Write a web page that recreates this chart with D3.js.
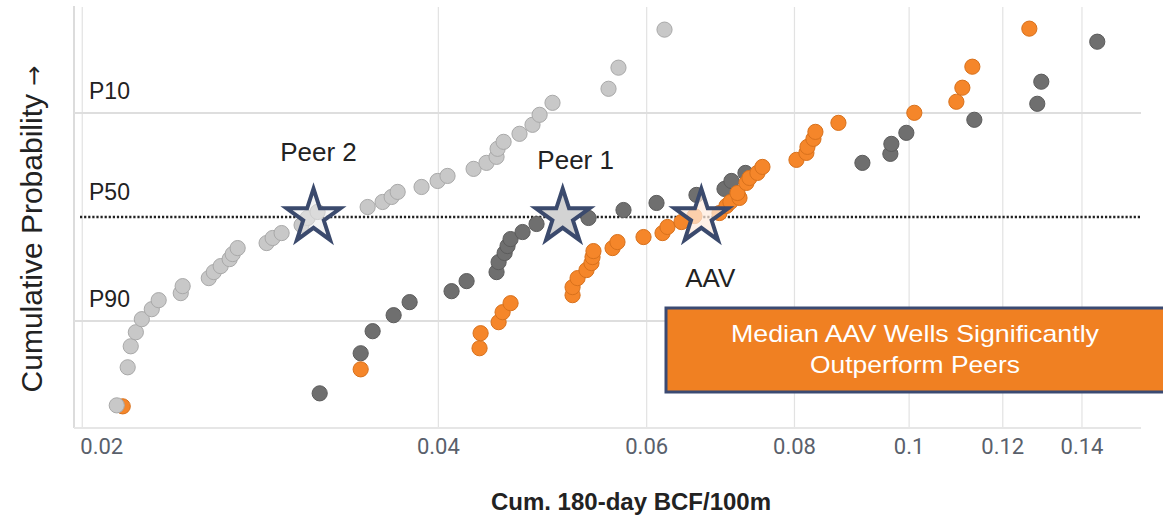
<!DOCTYPE html>
<html><head><meta charset="utf-8">
<script src="https://cdn.jsdelivr.net/npm/d3@7"></script>
<style>
html,body{margin:0;padding:0;background:#fff;}
svg{display:block;}
</style></head>
<body>
<svg id="chart" width="1163" height="518"></svg>
<script>
// ---- DATA ----
// x: Cum. 180-day BCF/100m ; z: normal score of cumulative probability (0 = P50)
const peer2X = [0.02141,0.02187,0.02200,0.02222,0.02248,0.02292,0.02323,0.02425,0.02434,0.02561,0.02586,0.02621,0.02667,0.02683,0.02709,0.02866,0.02900,0.02951,0.03068,0.03104,0.03165,0.03489,0.03592,0.03656,0.03699,0.03875,0.03998,0.04076,0.04288,0.04397,0.04484,0.04493,0.04546,0.04689,0.04809,0.04876,0.05000,0.05576,0.05685,0.06218];
const peer2Z = [-2.321,-1.852,-1.593,-1.420,-1.259,-1.136,-1.025,-0.938,-0.852,-0.753,-0.679,-0.605,-0.519,-0.457,-0.383,-0.321,-0.259,-0.198,-0.099,-0.012,0.062,0.123,0.185,0.247,0.309,0.370,0.444,0.506,0.593,0.667,0.741,0.840,0.926,1.025,1.136,1.259,1.407,1.580,1.840,2.309];

const peer1X = [0.03178,0.03442,0.03523,0.03670,0.03786,0.04108,0.04230,0.04484,0.04502,0.04555,0.04581,0.04608,0.04717,0.04847,0.05363,0.05741,0.06122,0.06617,0.06988,0.07083,0.07279,0.09140,0.09651,0.09670,0.09956,0.11365,0.12846,0.12947,0.14437];
const peer1Z = [-2.173,-1.679,-1.407,-1.210,-1.049,-0.914,-0.790,-0.679,-0.556,-0.444,-0.358,-0.272,-0.185,-0.086,-0.012,0.086,0.173,0.272,0.346,0.444,0.543,0.667,0.778,0.901,1.037,1.198,1.395,1.667,2.160];

const aavX = [0.02166,0.03442,0.04338,0.04347,0.04502,0.04537,0.04608,0.05199,0.05199,0.05250,0.05342,0.05394,0.05405,0.05415,0.05620,0.05674,0.05969,0.06194,0.06254,0.06427,0.06591,0.06920,0.07015,0.07069,0.07195,0.07167,0.07293,0.07336,0.07451,0.07524,0.08039,0.08196,0.08213,0.08309,0.08341,0.08723,0.10112,0.10974,0.11103,0.11321,0.12649];
const aavZ = [-2.333,-1.877,-1.617,-1.432,-1.296,-1.173,-1.062,-0.963,-0.864,-0.753,-0.654,-0.568,-0.494,-0.420,-0.383,-0.309,-0.247,-0.198,-0.123,-0.062,0.012,0.049,0.136,0.185,0.235,0.296,0.420,0.481,0.543,0.617,0.704,0.790,0.864,0.963,1.049,1.160,1.284,1.420,1.593,1.852,2.321];

const medianNames = ["Peer 2","Peer 1","AAV"];
const medianX = [0.0314,0.0510,0.0668];

const xTickValues = [0.02,0.04,0.06,0.08,0.1,0.12,0.14];
const xTickLabels = ["0.02","0.04","0.06","0.08","0.1","0.12","0.14"];
const pLabels = ["P10","P50","P90"];
const pZ = [1.2816,0,-1.2816];

const xTitle = "Cum. 180-day BCF/100m";
const yTitleText = "Cumulative Probability ";
const yTitleArrow = "\u2192";
const calloutLines = ["Median AAV Wells Significantly","Outperform Peers"];

// ---- LAYOUT / STYLE ----
const L = 74, R = 1141, T = 6, B = 428;
const svg = d3.select("#chart");
const x = d3.scaleLog().domain([0.0197, 0.1572]).range([L, R]);
const y = d3.scaleLinear().domain([-2.6, 2.6]).range([B, T]);

// vertical gridlines + tick labels via axis
const xAxis = d3.axisBottom(x).tickValues(xTickValues)
  .tickFormat((d,i)=>xTickLabels[i]).tickSize(-(B - T - 1)).tickPadding(10);
const gx = svg.append("g").attr("transform", `translate(0,${B})`).call(xAxis);
gx.select(".domain").remove();
gx.selectAll(".tick line").attr("stroke", "#e2e2e2").attr("stroke-width", 1.2);
gx.selectAll(".tick text")
  .attr("fill", "#59606b").attr("font-family", "Roboto, sans-serif").attr("font-size", 22)
  .attr("y", 10).attr("dy", "0.71em");
gx.selectAll(".tick text").filter((d,i)=>i===0).attr("text-anchor","start").attr("dx", -2);

// axis frame lines
svg.append("line").attr("x1", L).attr("x2", L).attr("y1", T).attr("y2", B)
  .attr("stroke", "#dcdcdc").attr("stroke-width", 2);
svg.append("line").attr("x1", L).attr("x2", R).attr("y1", B).attr("y2", B)
  .attr("stroke", "#e6e6e6").attr("stroke-width", 2);

// P10 / P90 lines and P50 dotted line
pZ.forEach((z, i) => {
  if (z === 0) {
    svg.append("line").attr("x1", 80).attr("x2", R).attr("y1", y(z)).attr("y2", y(z))
      .attr("stroke", "#222").attr("stroke-width", 2.5).attr("stroke-dasharray", "2.2,1.9");
  } else {
    svg.append("line").attr("x1", L).attr("x2", R).attr("y1", y(z)).attr("y2", y(z))
      .attr("stroke", "#dedede").attr("stroke-width", 2);
  }
  svg.append("text").attr("x", 89).attr("y", y(z) - (z === 0 ? 17 : 14))
    .attr("font-family", "Liberation Sans, Arial, sans-serif").attr("font-size", 23)
    .attr("fill", "#222").text(pLabels[i]);
});

// points
function series(xs, zs, fill, stroke) {
  svg.append("g").selectAll("circle").data(xs.map((v,i)=>[v, zs[i]])).join("circle")
    .attr("cx", d => x(d[0])).attr("cy", d => y(d[1])).attr("r", 7.6)
    .attr("fill", fill).attr("stroke", stroke).attr("stroke-width", 1);
}
series(peer1X, peer1Z, "#6f6f6f", "#5c5c5c");
series(aavX, aavZ, "#f5862a", "#d8711c");
series(peer2X, peer2Z, "#c8c8c8", "#a9a9a9");

// median stars
const starFills = ["rgba(235,235,235,0.55)", "#d3d3d3", "rgba(255,236,222,0.72)"];
const labelOffsets = [[5,-56],[13,-48],[9,70]];
const star = d3.symbol().type(d3.symbolStar).size(900);
medianX.forEach((v, i) => {
  svg.append("path").attr("d", star())
    .attr("transform", `translate(${x(v)},${y(0)})`)
    .attr("fill", starFills[i]).attr("stroke", "#3b4a6d").attr("stroke-width", 4)
    .attr("stroke-linejoin", "miter").attr("stroke-miterlimit", 10);
  svg.append("text").attr("x", x(v) + labelOffsets[i][0]).attr("y", y(0) + labelOffsets[i][1])
    .attr("text-anchor", "middle").attr("font-family", "Liberation Sans, Arial, sans-serif")
    .attr("font-size", 26).attr("fill", "#222").text(medianNames[i]);
});

// callout box
const calloutWidths = [368, 210];
svg.append("rect").attr("x", 666).attr("y", 308).attr("width", 520).attr("height", 84)
  .attr("fill", "#f08022").attr("stroke", "#3b4a72").attr("stroke-width", 3);
calloutLines.forEach((t, i) => {
  svg.append("text").attr("x", 915).attr("y", 342 + i * 31).attr("text-anchor", "middle")
    .attr("font-family", "Liberation Sans, Arial, sans-serif").attr("font-size", 24)
    .attr("textLength", calloutWidths[i]).attr("lengthAdjust", "spacingAndGlyphs")
    .attr("fill", "#fff").text(t);
});

// axis titles
svg.append("text").attr("x", 631).attr("y", 510).attr("text-anchor", "middle")
  .attr("font-family", "Liberation Sans, Arial, sans-serif").attr("font-weight", "bold")
  .attr("font-size", 24).attr("fill", "#222").text(xTitle);
const yt = svg.append("text").attr("transform", "translate(42,229) rotate(-90)").attr("text-anchor", "middle")
  .attr("font-family", "Liberation Sans, Arial, sans-serif").attr("font-size", 30)
  .attr("fill", "#222");
yt.append("tspan").text(yTitleText);
yt.append("tspan").attr("font-family", "DejaVu Sans, sans-serif").attr("font-size", 24).text(yTitleArrow);
</script>
</body></html>
